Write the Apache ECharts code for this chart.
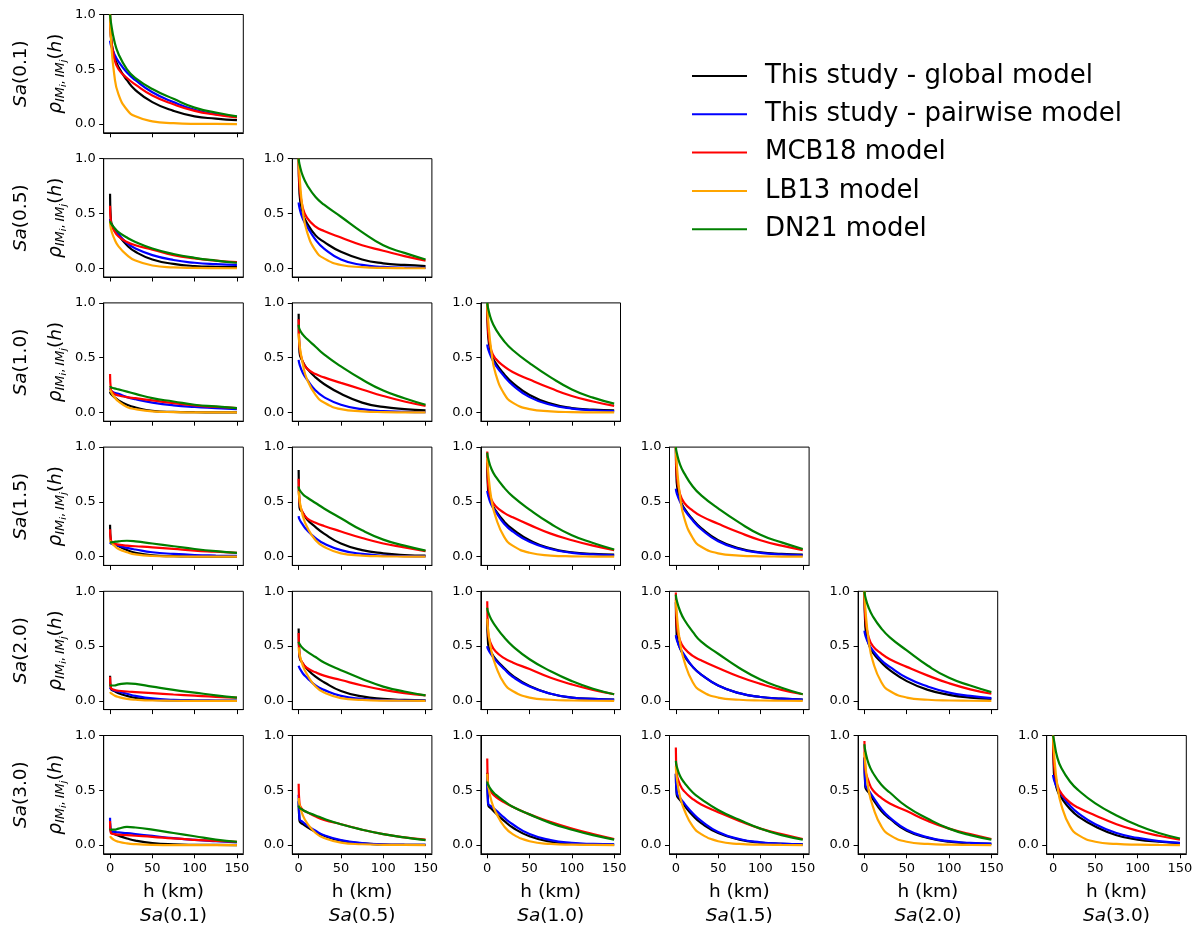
<!DOCTYPE html>
<html>
<head>
<meta charset="utf-8">
<script src="https://cdn.jsdelivr.net/npm/echarts@6/dist/echarts.min.js"></script>
<style>
  html, body { margin: 0; padding: 0; background: #ffffff; }
  #chart { width: 1198px; height: 929px; }
</style>
</head>
<body>
<div id="chart"></div>
<script>
// Spectral periods (s) of the Sa intensity measures, one per row/column
const periods = ['0.1', '0.5', '1.0', '1.5', '2.0', '3.0'];

// Separation distances (km) at which every correlation curve is given
const hKm = [0, 1, 5, 10, 20, 30, 50, 75, 100, 125, 150];

// Tick values
const xTicks = [0, 50, 100, 150];
const yTicks = [0, 0.5, 1.0];

// Correlation values, one row per panel of the lower triangle,
// ordered row by row: (0.1,0.1), (0.5,0.1), (0.5,0.5), (1.0,0.1), ...
const globalModel = [
  [1.0, 0.80, 0.62, 0.52, 0.40, 0.31, 0.20, 0.12, 0.07, 0.05, 0.035],
  [0.68, 0.44, 0.36, 0.30, 0.21, 0.15, 0.08, 0.04, 0.02, 0.013, 0.01],
  [1.0, 0.68, 0.50, 0.41, 0.30, 0.24, 0.15, 0.08, 0.045, 0.03, 0.02],
  [0.19, 0.17, 0.14, 0.11, 0.07, 0.045, 0.015, 0.005, 0.002, 0.001, 0.0],
  [0.90, 0.55, 0.46, 0.40, 0.32, 0.26, 0.17, 0.09, 0.05, 0.03, 0.02],
  [1.0, 0.70, 0.53, 0.45, 0.35, 0.27, 0.16, 0.08, 0.04, 0.025, 0.018],
  [0.29, 0.14, 0.12, 0.095, 0.06, 0.035, 0.012, 0.004, 0.001, 0.0, 0.0],
  [0.79, 0.45, 0.40, 0.34, 0.27, 0.21, 0.12, 0.06, 0.03, 0.015, 0.01],
  [0.86, 0.60, 0.49, 0.42, 0.32, 0.25, 0.15, 0.075, 0.04, 0.025, 0.018],
  [1.0, 0.68, 0.52, 0.44, 0.34, 0.26, 0.15, 0.075, 0.04, 0.025, 0.018],
  [0.23, 0.11, 0.09, 0.07, 0.045, 0.027, 0.009, 0.003, 0.001, 0.0, 0.0],
  [0.66, 0.40, 0.34, 0.29, 0.22, 0.17, 0.09, 0.04, 0.018, 0.008, 0.004],
  [0.75, 0.52, 0.44, 0.38, 0.30, 0.23, 0.135, 0.065, 0.03, 0.018, 0.012],
  [0.90, 0.60, 0.48, 0.41, 0.31, 0.24, 0.14, 0.07, 0.035, 0.02, 0.012],
  [1.0, 0.68, 0.52, 0.44, 0.35, 0.28, 0.18, 0.10, 0.055, 0.03, 0.018],
  [0.20, 0.12, 0.10, 0.085, 0.06, 0.04, 0.018, 0.006, 0.002, 0.001, 0.0],
  [0.40, 0.22, 0.19, 0.165, 0.12, 0.085, 0.04, 0.015, 0.005, 0.002, 0.001],
  [0.66, 0.37, 0.33, 0.29, 0.22, 0.16, 0.08, 0.03, 0.012, 0.005, 0.003],
  [0.65, 0.46, 0.41, 0.36, 0.27, 0.20, 0.11, 0.05, 0.022, 0.01, 0.006],
  [0.80, 0.53, 0.48, 0.42, 0.31, 0.24, 0.13, 0.065, 0.03, 0.018, 0.011],
  [1.0, 0.66, 0.50, 0.43, 0.33, 0.26, 0.17, 0.09, 0.05, 0.03, 0.018]
];

const pairwiseModel = [
  [0.76, 0.72, 0.64, 0.57, 0.47, 0.40, 0.29, 0.20, 0.13, 0.09, 0.065],
  [0.45, 0.41, 0.36, 0.31, 0.23, 0.18, 0.12, 0.075, 0.05, 0.037, 0.03],
  [0.60, 0.55, 0.45, 0.38, 0.26, 0.18, 0.08, 0.03, 0.012, 0.005, 0.003],
  [0.22, 0.20, 0.18, 0.17, 0.14, 0.12, 0.09, 0.065, 0.05, 0.04, 0.03],
  [0.48, 0.44, 0.36, 0.30, 0.20, 0.14, 0.07, 0.03, 0.012, 0.006, 0.003],
  [0.62, 0.58, 0.50, 0.43, 0.33, 0.25, 0.14, 0.07, 0.035, 0.02, 0.012],
  [0.13, 0.12, 0.11, 0.10, 0.08, 0.065, 0.04, 0.025, 0.015, 0.01, 0.007],
  [0.37, 0.34, 0.29, 0.24, 0.17, 0.12, 0.06, 0.025, 0.01, 0.005, 0.003],
  [0.60, 0.56, 0.47, 0.41, 0.30, 0.23, 0.135, 0.07, 0.035, 0.02, 0.012],
  [0.62, 0.58, 0.50, 0.43, 0.33, 0.25, 0.14, 0.07, 0.035, 0.02, 0.012],
  [0.12, 0.11, 0.095, 0.085, 0.065, 0.045, 0.022, 0.01, 0.005, 0.003, 0.002],
  [0.32, 0.30, 0.25, 0.21, 0.14, 0.10, 0.045, 0.018, 0.007, 0.003, 0.002],
  [0.50, 0.47, 0.42, 0.37, 0.29, 0.22, 0.13, 0.065, 0.03, 0.018, 0.012],
  [0.60, 0.56, 0.48, 0.42, 0.31, 0.24, 0.14, 0.07, 0.035, 0.02, 0.012],
  [0.64, 0.60, 0.52, 0.46, 0.37, 0.31, 0.21, 0.13, 0.075, 0.045, 0.025],
  [0.25, 0.13, 0.12, 0.115, 0.108, 0.10, 0.083, 0.063, 0.047, 0.035, 0.025],
  [0.46, 0.24, 0.21, 0.18, 0.13, 0.09, 0.045, 0.018, 0.007, 0.003, 0.002],
  [0.62, 0.38, 0.35, 0.32, 0.25, 0.19, 0.10, 0.045, 0.02, 0.01, 0.006],
  [0.65, 0.48, 0.43, 0.38, 0.29, 0.22, 0.12, 0.055, 0.025, 0.012, 0.007],
  [0.80, 0.55, 0.50, 0.44, 0.33, 0.25, 0.14, 0.07, 0.035, 0.02, 0.012],
  [0.64, 0.60, 0.52, 0.46, 0.36, 0.29, 0.19, 0.11, 0.065, 0.035, 0.02]
];

const mcb18Model = [
  [1.0, 0.80, 0.60, 0.50, 0.42, 0.36, 0.26, 0.18, 0.12, 0.085, 0.06],
  [0.57, 0.42, 0.34, 0.29, 0.24, 0.21, 0.17, 0.12, 0.09, 0.07, 0.055],
  [1.0, 0.75, 0.55, 0.46, 0.38, 0.34, 0.28, 0.21, 0.16, 0.11, 0.07],
  [0.35, 0.21, 0.17, 0.155, 0.14, 0.13, 0.11, 0.085, 0.065, 0.05, 0.04],
  [0.85, 0.60, 0.46, 0.40, 0.35, 0.32, 0.27, 0.21, 0.15, 0.10, 0.06],
  [1.0, 0.74, 0.56, 0.49, 0.42, 0.37, 0.30, 0.22, 0.15, 0.10, 0.06],
  [0.25, 0.15, 0.12, 0.11, 0.10, 0.095, 0.085, 0.07, 0.055, 0.045, 0.035],
  [0.71, 0.50, 0.40, 0.35, 0.31, 0.28, 0.23, 0.17, 0.12, 0.085, 0.05],
  [0.96, 0.66, 0.52, 0.46, 0.40, 0.36, 0.29, 0.21, 0.15, 0.10, 0.06],
  [1.0, 0.75, 0.57, 0.49, 0.42, 0.37, 0.30, 0.22, 0.15, 0.10, 0.06],
  [0.22, 0.12, 0.10, 0.092, 0.085, 0.08, 0.07, 0.058, 0.047, 0.037, 0.03],
  [0.62, 0.42, 0.34, 0.30, 0.26, 0.23, 0.19, 0.14, 0.10, 0.07, 0.05],
  [0.91, 0.62, 0.51, 0.45, 0.39, 0.35, 0.29, 0.21, 0.15, 0.10, 0.06],
  [0.99, 0.70, 0.55, 0.48, 0.41, 0.37, 0.30, 0.22, 0.155, 0.10, 0.06],
  [1.0, 0.76, 0.58, 0.50, 0.43, 0.38, 0.31, 0.23, 0.16, 0.105, 0.065],
  [0.22, 0.11, 0.10, 0.095, 0.09, 0.085, 0.075, 0.06, 0.048, 0.038, 0.03],
  [0.56, 0.38, 0.32, 0.30, 0.26, 0.23, 0.19, 0.14, 0.10, 0.07, 0.05],
  [0.79, 0.55, 0.48, 0.44, 0.39, 0.35, 0.28, 0.21, 0.15, 0.10, 0.055],
  [0.89, 0.66, 0.55, 0.49, 0.42, 0.37, 0.30, 0.22, 0.15, 0.10, 0.055],
  [0.95, 0.70, 0.58, 0.50, 0.43, 0.38, 0.31, 0.22, 0.15, 0.10, 0.055],
  [1.0, 0.74, 0.55, 0.47, 0.39, 0.34, 0.27, 0.19, 0.13, 0.085, 0.05]
];

const lb13Model = [
  [1.0, 0.78, 0.45, 0.27, 0.13, 0.07, 0.025, 0.008, 0.002, 0.001, 0.0],
  [0.43, 0.36, 0.27, 0.20, 0.12, 0.07, 0.025, 0.008, 0.003, 0.001, 0.0],
  [1.0, 0.85, 0.52, 0.33, 0.16, 0.09, 0.03, 0.01, 0.003, 0.001, 0.0],
  [0.21, 0.19, 0.14, 0.10, 0.05, 0.03, 0.01, 0.003, 0.001, 0.0, 0.0],
  [0.72, 0.62, 0.44, 0.30, 0.16, 0.09, 0.03, 0.01, 0.003, 0.001, 0.0],
  [1.0, 0.85, 0.55, 0.35, 0.17, 0.09, 0.03, 0.01, 0.003, 0.001, 0.0],
  [0.15, 0.13, 0.10, 0.07, 0.04, 0.02, 0.006, 0.002, 0.0, 0.0, 0.0],
  [0.60, 0.52, 0.37, 0.27, 0.15, 0.09, 0.03, 0.01, 0.003, 0.001, 0.0],
  [0.90, 0.78, 0.52, 0.36, 0.18, 0.10, 0.035, 0.01, 0.003, 0.001, 0.0],
  [1.0, 0.85, 0.55, 0.35, 0.17, 0.09, 0.03, 0.01, 0.003, 0.001, 0.0],
  [0.08, 0.07, 0.05, 0.035, 0.018, 0.01, 0.003, 0.001, 0.0, 0.0, 0.0],
  [0.49, 0.43, 0.32, 0.24, 0.13, 0.075, 0.025, 0.008, 0.002, 0.001, 0.0],
  [0.75, 0.65, 0.45, 0.32, 0.16, 0.09, 0.03, 0.01, 0.003, 0.001, 0.0],
  [0.92, 0.80, 0.53, 0.36, 0.17, 0.09, 0.03, 0.01, 0.003, 0.001, 0.0],
  [1.0, 0.85, 0.55, 0.36, 0.17, 0.09, 0.03, 0.01, 0.003, 0.001, 0.0],
  [0.08, 0.07, 0.045, 0.03, 0.015, 0.008, 0.002, 0.0, 0.0, 0.0, 0.0],
  [0.43, 0.37, 0.27, 0.20, 0.11, 0.065, 0.022, 0.007, 0.002, 0.001, 0.0],
  [0.65, 0.55, 0.40, 0.30, 0.17, 0.10, 0.035, 0.01, 0.003, 0.001, 0.0],
  [0.72, 0.62, 0.44, 0.32, 0.17, 0.10, 0.035, 0.01, 0.003, 0.001, 0.0],
  [0.85, 0.74, 0.50, 0.35, 0.17, 0.09, 0.03, 0.01, 0.003, 0.001, 0.0],
  [1.0, 0.85, 0.55, 0.36, 0.17, 0.09, 0.03, 0.01, 0.003, 0.001, 0.0]
];

const dn21Model = [
  [1.0, 0.93, 0.76, 0.64, 0.50, 0.42, 0.32, 0.23, 0.15, 0.105, 0.07],
  [0.43, 0.41, 0.37, 0.33, 0.28, 0.24, 0.18, 0.13, 0.095, 0.07, 0.05],
  [1.0, 0.95, 0.84, 0.76, 0.65, 0.58, 0.47, 0.33, 0.21, 0.14, 0.08],
  [0.24, 0.23, 0.22, 0.21, 0.19, 0.17, 0.13, 0.10, 0.07, 0.055, 0.04],
  [0.80, 0.76, 0.71, 0.67, 0.60, 0.53, 0.42, 0.30, 0.20, 0.13, 0.07],
  [1.0, 0.95, 0.84, 0.76, 0.65, 0.57, 0.45, 0.32, 0.21, 0.135, 0.08],
  [0.13, 0.13, 0.135, 0.14, 0.145, 0.14, 0.12, 0.095, 0.07, 0.05, 0.035],
  [0.64, 0.61, 0.57, 0.54, 0.49, 0.44, 0.35, 0.24, 0.155, 0.10, 0.055],
  [0.95, 0.90, 0.80, 0.73, 0.63, 0.55, 0.43, 0.30, 0.195, 0.125, 0.065],
  [1.0, 0.95, 0.84, 0.76, 0.64, 0.56, 0.44, 0.31, 0.20, 0.13, 0.07],
  [0.15, 0.14, 0.14, 0.15, 0.16, 0.155, 0.13, 0.10, 0.075, 0.05, 0.03],
  [0.54, 0.52, 0.48, 0.45, 0.40, 0.35, 0.28, 0.20, 0.13, 0.085, 0.05],
  [0.85, 0.81, 0.74, 0.68, 0.58, 0.50, 0.38, 0.27, 0.18, 0.11, 0.06],
  [0.97, 0.92, 0.82, 0.74, 0.63, 0.54, 0.43, 0.30, 0.195, 0.12, 0.06],
  [1.0, 0.95, 0.85, 0.77, 0.66, 0.58, 0.46, 0.32, 0.21, 0.14, 0.08],
  [0.15, 0.14, 0.14, 0.15, 0.165, 0.16, 0.14, 0.11, 0.08, 0.05, 0.03],
  [0.36, 0.34, 0.32, 0.30, 0.27, 0.24, 0.19, 0.14, 0.10, 0.07, 0.045],
  [0.58, 0.55, 0.50, 0.46, 0.40, 0.35, 0.28, 0.20, 0.14, 0.09, 0.05],
  [0.77, 0.72, 0.63, 0.57, 0.48, 0.42, 0.32, 0.23, 0.15, 0.09, 0.05],
  [0.92, 0.86, 0.74, 0.66, 0.55, 0.48, 0.35, 0.24, 0.15, 0.09, 0.05],
  [1.0, 0.96, 0.80, 0.70, 0.58, 0.50, 0.38, 0.27, 0.18, 0.11, 0.06]
];

// Drawing order: later models sit on top of earlier ones
const models = [
  { name: 'This study - global model',   color: '#000000', values: globalModel },
  { name: 'This study - pairwise model', color: '#0000ff', values: pairwiseModel },
  { name: 'MCB18 model',                 color: '#ff0000', values: mcb18Model },
  { name: 'LB13 model',                  color: '#ffa500', values: lb13Model },
  { name: 'DN21 model',                  color: '#008000', values: dn21Model }
];

const FONT = 'DejaVu Sans';
const box = { left0: 103.7, colStep: 188.6, width: 139.6, top0: 14.5, rowStep: 144.2, height: 118.3 };
const nRows = periods.length;

const grids = [], xAxes = [], yAxes = [], series = [], graphics = [];
const axisLineStyle = { color: '#000000', width: 1 };

let k = 0;
for (let i = 0; i < nRows; i++) {
  for (let j = 0; j <= i; j++) {
    const left = box.left0 + j * box.colStep;
    const top = box.top0 + i * box.rowStep;
    grids.push({
      left: left, top: top, width: box.width, height: box.height,
      show: true, borderColor: '#000000', borderWidth: 1,
      backgroundColor: 'transparent', containLabel: false, outerBoundsMode: 'none'
    });
    xAxes.push({
      type: 'value', gridIndex: k, min: -7.5, max: 157.5,
      axisLine: { show: true, onZero: false, lineStyle: axisLineStyle },
      axisTick: { show: true, inside: false, length: 4.5, customValues: xTicks, lineStyle: axisLineStyle },
      axisLabel: {
        show: i === nRows - 1, customValues: xTicks, margin: 8,
        fontSize: 13, fontFamily: FONT, color: '#000000'
      },
      splitLine: { show: false }
    });
    yAxes.push({
      type: 'value', gridIndex: k, min: -0.08, max: 1.0,
      axisLine: { show: true, onZero: false, lineStyle: axisLineStyle },
      axisTick: { show: true, inside: false, length: 4.5, customValues: yTicks, lineStyle: axisLineStyle },
      axisLabel: {
        show: true, customValues: yTicks, margin: 8,
        fontSize: 13, fontFamily: FONT, color: '#000000',
        formatter: function (v) { return Number(v).toFixed(1); }
      },
      splitLine: { show: false }
    });
    models.forEach(function (m, mi) {
      series.push({
        type: 'line', name: m.name, xAxisIndex: k, yAxisIndex: k,
        data: hKm.map(function (h, t) { return [h, m.values[k][t]]; }),
        symbol: 'none', showSymbol: false,
        smooth: 0.5,
        color: m.color,
        itemStyle: { color: m.color },
        lineStyle: { color: m.color, width: 2.2 },
        emphasis: { disabled: true },
        z: 2 + mi, clip: true
      });
    });
    k++;
  }
}

// Row labels (left side): period name and correlation symbol
for (let i = 0; i < nRows; i++) {
  const cy = box.top0 + i * box.rowStep + box.height / 2;
  graphics.push({
    type: 'text', x: 21, y: cy, rotation: Math.PI / 2,
    style: {
      text: '{i|Sa}{r|(' + periods[i] + ')}',
      align: 'center', verticalAlign: 'middle', fill: '#000000',
      rich: {
        i: { fontFamily: FONT, fontSize: 18.5, fontStyle: 'italic', fill: '#000000' },
        r: { fontFamily: FONT, fontSize: 18.5, fill: '#000000' }
      }
    }
  });
  graphics.push({
    type: 'text', x: 56, y: cy, rotation: Math.PI / 2,
    style: {
      text: '{m|ρ}{s|IM}{ss|i}{c|,}{s|IM}{ss|j}{n|(}{m|h}{n|)}',
      align: 'center', verticalAlign: 'middle', fill: '#000000',
      rich: {
        m: { fontFamily: FONT, fontSize: 18.5, fontStyle: 'italic', lineHeight: 28, fill: '#000000' },
        n: { fontFamily: FONT, fontSize: 18.5, lineHeight: 28, fill: '#000000' },
        s: { fontFamily: FONT, fontSize: 13, fontStyle: 'italic', lineHeight: 13, padding: [10, 0, 0, 0], fill: '#000000' },
        c: { fontFamily: FONT, fontSize: 13, lineHeight: 13, padding: [10, 3, 0, 0], fill: '#000000' },
        ss: { fontFamily: FONT, fontSize: 9.5, fontStyle: 'italic', lineHeight: 10, padding: [16, 0, 0, 0], fill: '#000000' }
      }
    }
  });
}

// Column labels (bottom): distance label and period name
for (let j = 0; j < nRows; j++) {
  const cx = box.left0 + j * box.colStep + box.width / 2;
  graphics.push({
    type: 'text', x: cx, y: 892,
    style: { text: 'h (km)', fontFamily: FONT, fontSize: 18.5, fill: '#000000', align: 'center', verticalAlign: 'middle' }
  });
  graphics.push({
    type: 'text', x: cx, y: 916,
    style: {
      text: '{i|Sa}{r|(' + periods[j] + ')}',
      align: 'center', verticalAlign: 'middle', fill: '#000000',
      rich: {
        i: { fontFamily: FONT, fontSize: 18.5, fontStyle: 'italic', fill: '#000000' },
        r: { fontFamily: FONT, fontSize: 18.5, fill: '#000000' }
      }
    }
  });
}

const chart = echarts.init(document.getElementById('chart'), null, { renderer: 'canvas' });
chart.setOption({
  animation: false,
  backgroundColor: '#ffffff',
  grid: grids,
  xAxis: xAxes,
  yAxis: yAxes,
  series: series,
  graphic: graphics,
  legend: {
    data: models.map(function (m) { return m.name; }),
    orient: 'vertical', left: 687, top: 58,
    icon: 'rect', itemWidth: 55, itemHeight: 2, itemGap: 12.3,
    selectedMode: false,
    textStyle: { fontFamily: FONT, fontSize: 26, lineHeight: 26, color: '#000000', padding: [0, 0, 0, 13] }
  },
  tooltip: { show: false }
});
</script>
</body>
</html>
